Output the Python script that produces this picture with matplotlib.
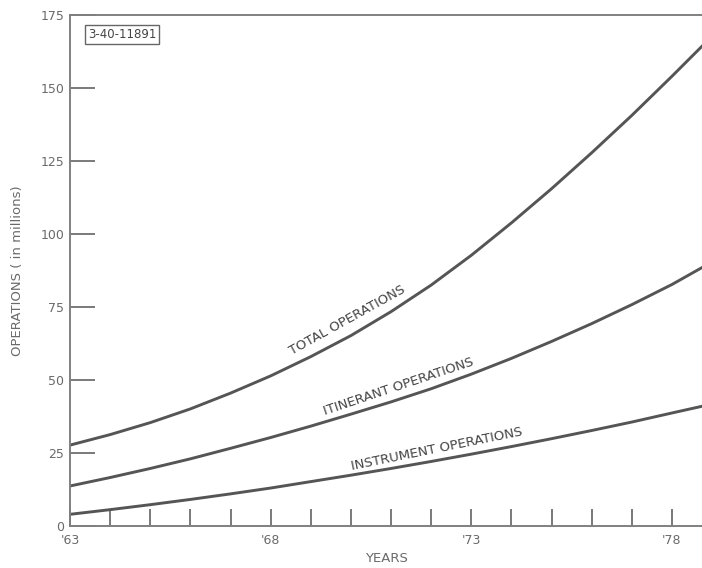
import matplotlib.pyplot as plt
import numpy as np

# values (operations, millions)
years = [63, 64, 65, 66, 67, 68, 69, 70, 71, 72, 73, 74, 75, 76, 77, 78, 78.75]
total = [27.7, 31.3, 35.4, 40.1, 45.5, 51.4, 58.0, 65.2, 73.4, 82.5, 92.7, 103.8, 115.5, 127.8, 140.6, 154.0, 164.3]
itinerant = [13.7, 16.6, 19.7, 23.0, 26.6, 30.3, 34.2, 38.3, 42.5, 47.0, 52.0, 57.4, 63.2, 69.3, 75.8, 82.7, 88.5]
instrument = [4.0, 5.6, 7.3, 9.1, 11.0, 13.0, 15.2, 17.4, 19.7, 22.1, 24.6, 27.2, 29.9, 32.7, 35.6, 38.7, 41.0]

xticks = [63, 68, 73, 78]
xlabels = ["'63", "'68", "'73", "'78"]
yticks = [0, 25, 50, 75, 100, 125, 150, 175]

gray = '#6a6a6a'
line_c = '#555555'

fig = plt.figure(figsize=(7.02, 5.68), dpi=100)
ax = fig.add_axes([70 / 702, 42 / 568, 632 / 702, 511 / 568])

for s in [total, itinerant, instrument]:
    ax.plot(years, s, color=line_c, lw=2.1, solid_joinstyle='round')

ax.set_xlim(63, 78.75)
ax.set_ylim(0, 175)

ax.spines['right'].set_visible(False)
for k in ['left', 'top', 'bottom']:
    ax.spines[k].set_color('#808080')
    ax.spines[k].set_linewidth(1.4)

ax.set_xticks(xticks)
ax.set_xticklabels(xlabels)
ax.set_xticks(np.arange(64, 79), minor=True)
ax.tick_params(axis='x', which='major', direction='in', length=12, width=1.3,
               color='#707070', labelsize=9, labelcolor=gray, pad=6)
ax.tick_params(axis='x', which='minor', direction='in', length=12, width=1.3, color='#707070')
ax.set_yticks(yticks)
ax.tick_params(axis='y', direction='in', length=18, width=1.3, color='#707070',
               labelsize=9, labelcolor=gray, pad=4)

ax.set_xlabel('YEARS', fontsize=9.5, color=gray, labelpad=3)
ax.set_ylabel('OPERATIONS ( in millions)', fontsize=9.5, color=gray, labelpad=12)

# labels along the curves
ax.text(69.9, 70.5, 'TOTAL OPERATIONS', rotation=29, fontsize=9.5, color='#444444',
        ha='center', va='center', rotation_mode='anchor')
ax.text(71.2, 47.6, 'ITINERANT OPERATIONS', rotation=18.5, fontsize=9.5, color='#444444',
        ha='center', va='center', rotation_mode='anchor')
ax.text(72.15, 26.4, 'INSTRUMENT OPERATIONS', rotation=11.5, fontsize=9.5, color='#444444',
        ha='center', va='center', rotation_mode='anchor')

# drawing number stamp
ax.text(64.3, 168.3, '3-40-11891', fontsize=8.5, color='#444444', ha='center', va='center',
        bbox=dict(boxstyle='square,pad=0.25', fc='white', ec='#666666', lw=1))

fig.savefig('out.png', dpi=100)
